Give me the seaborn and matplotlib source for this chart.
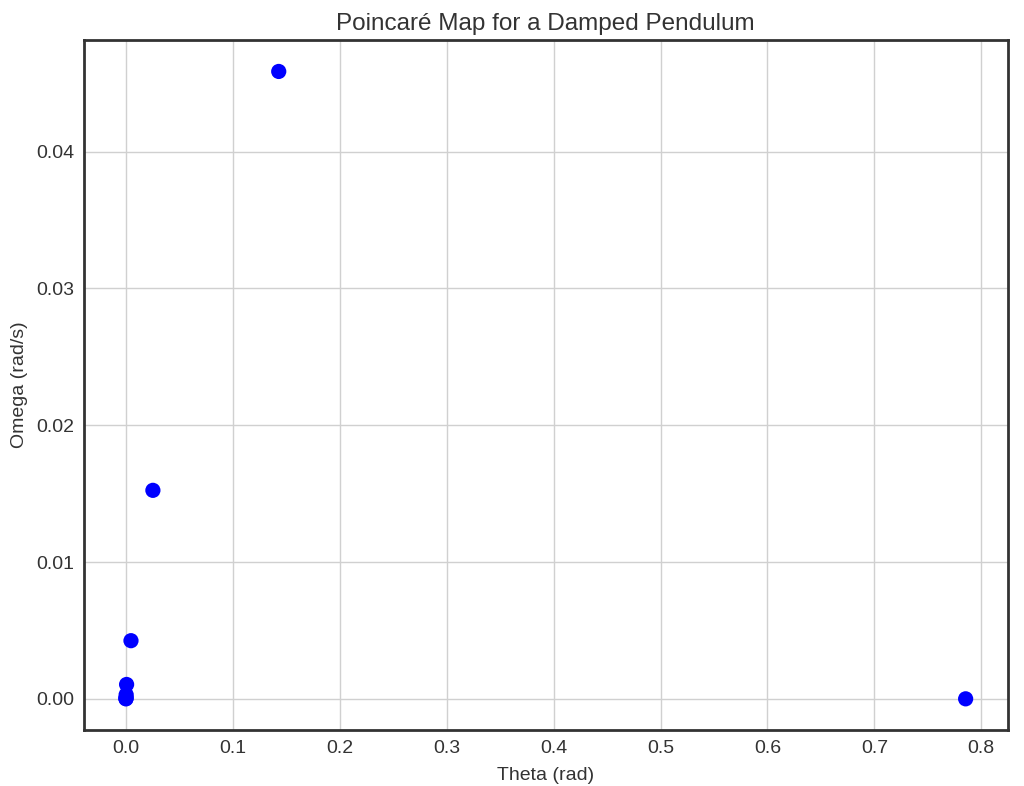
import matplotlib
matplotlib.use("Agg")
import matplotlib.pyplot as plt
import seaborn as sns
import pandas as pd

# Poincare section samples (theta, omega)
theta = [0.7854, 0.1429, 0.0252, 0.0047, 0.0006, 0.0002, 0.0001, 0.0, 0.0]
omega = [0.0, 0.04586, 0.01524, 0.00425, 0.00105, 0.0003, 0.0001, 0.00002, 0.0]

df = pd.DataFrame({"theta": theta, "omega": omega})

sns.set_style("white")
plt.rcParams["font.family"] = ["Liberation Sans", "DejaVu Sans"]
plt.rcParams["axes.edgecolor"] = "#333333"

fig, ax = plt.subplots(figsize=(10.24, 7.86), dpi=100)
sns.scatterplot(data=df, x="theta", y="omega", color="blue", s=120,
                edgecolor="none", ax=ax, zorder=3)

ax.grid(True, color="#d0d0d0", linewidth=1)
ax.set_axisbelow(True)
for sp in ax.spines.values():
    sp.set_linewidth(2)
    sp.set_color("#333333")

ax.set_title("Poincaré Map for a Damped Pendulum", fontsize=17.5, color="#333333", pad=7)
ax.set_xlabel("Theta (rad)", fontsize=14, color="#333333", labelpad=7)
ax.set_ylabel("Omega (rad/s)", fontsize=14, color="#333333", labelpad=6)
ax.tick_params(labelsize=14, labelcolor="#333333")

plt.subplots_adjust(left=0.082, right=0.984, top=0.949, bottom=0.071)
fig.savefig("out.png", dpi=100)
